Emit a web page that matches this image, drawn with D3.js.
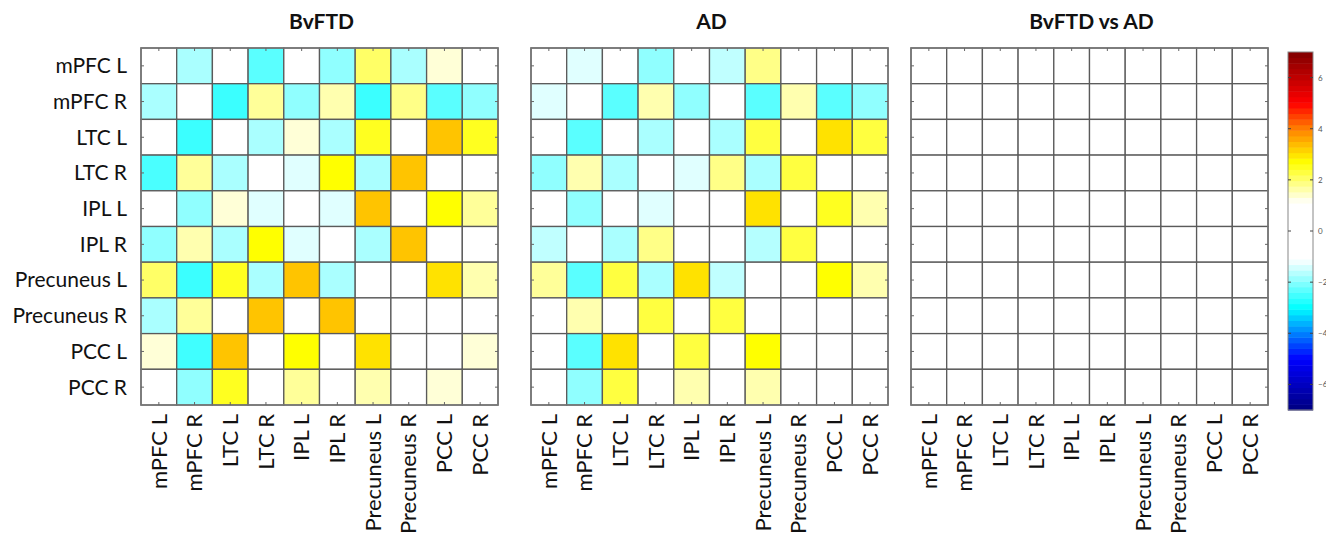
<!DOCTYPE html>
<html>
<head>
<meta charset="utf-8">
<script src="https://cdn.jsdelivr.net/npm/d3@7"></script>
<style>
  body { margin: 0; background: #fff; }
  svg text { font-family: Lato, "Open Sans", sans-serif; fill: #111; }
</style>
</head>
<body>
<svg id="chart-svg" width="1326" height="536"></svg>
<script>
// region names (rows and columns)
const regions = ['mPFC L', 'mPFC R', 'LTC L', 'LTC R', 'IPL L', 'IPL R',
  'Precuneus L', 'Precuneus R', 'PCC L', 'PCC R'];

const panelTitles = ['BvFTD', 'AD', 'BvFTD vs AD'];

const bvftdValues = [
  [0, -1.73, 0, -2.33, 0, -1.93, 2.06, -1.73, 1.35, 0],
  [-1.73, 0, -2.56, 1.74, -1.93, 1.6, -2.56, 1.85, -2.33, -1.93],
  [0, -2.56, 0, -1.73, 1.35, -1.73, 2.5, 0, 3.3, 2.5],
  [-2.45, 1.74, -1.73, 0, -1.33, 2.7, -1.73, 3.3, 0, 0],
  [0, -1.93, 1.35, -1.33, 0, -1.33, 3.3, 0, 2.7, 1.74],
  [-1.93, 1.6, -1.73, 2.7, -1.33, 0, -1.73, 3.3, 0, 0],
  [2.06, -2.56, 2.5, -1.73, 3.3, -1.73, 0, 0, 3.0, 1.6],
  [-1.73, 1.74, 0, 3.3, 0, 3.3, 0, 0, 0, 0],
  [1.35, -2.52, 3.3, 0, 2.7, 0, 3.0, 0, 0, 1.35],
  [0, -1.93, 2.5, 0, 1.74, 0, 1.6, 0, 1.35, 0]
];

const adValues = [
  [0, -1.33, 0, -1.93, 0, -1.57, 1.85, 0, 0, 0],
  [-1.33, 0, -2.33, 1.6, -1.93, 0, -2.33, 1.6, -2.33, -1.93],
  [0, -2.33, 0, -1.73, 0, -1.73, 2.3, 0, 3.0, 2.3],
  [-1.93, 1.6, -1.73, 0, -1.33, 1.85, -1.73, 2.3, 0, 0],
  [0, -1.93, 0, -1.33, 0, 0, 3.0, 0, 2.5, 1.6],
  [-1.57, 0, -1.73, 1.85, 0, 0, -1.65, 2.3, 0, 0],
  [1.74, -2.33, 2.3, -1.73, 3.0, -1.57, 0, 0, 2.7, 1.6],
  [0, 1.6, 0, 2.3, 0, 2.3, 0, 0, 0, 0],
  [0, -2.33, 3.0, 0, 2.3, 0, 2.7, 0, 0, 0],
  [0, -1.93, 2.3, 0, 1.6, 0, 1.6, 0, 0, 0]
];

const diffValues = [
  [0, 0, 0, 0, 0, 0, 0, 0, 0, 0],
  [0, 0, 0, 0, 0, 0, 0, 0, 0, 0],
  [0, 0, 0, 0, 0, 0, 0, 0, 0, 0],
  [0, 0, 0, 0, 0, 0, 0, 0, 0, 0],
  [0, 0, 0, 0, 0, 0, 0, 0, 0, 0],
  [0, 0, 0, 0, 0, 0, 0, 0, 0, 0],
  [0, 0, 0, 0, 0, 0, 0, 0, 0, 0],
  [0, 0, 0, 0, 0, 0, 0, 0, 0, 0],
  [0, 0, 0, 0, 0, 0, 0, 0, 0, 0],
  [0, 0, 0, 0, 0, 0, 0, 0, 0, 0]
];

const colorbarTicks = [-6, -4, -2, 0, 2, 4, 6];
const colorbarDomain = [-7, 7];

// jet-like map with a white band in the middle
const color = d3.scaleLinear()
  .domain([-7, -5, -4, -3, -1.1, 1.1, 2.7, 4, 5, 7])
  .range(['#000080', '#0000ff', '#0080ff', '#00ffff', '#ffffff',
          '#ffffff', '#ffff00', '#ff8000', '#ff0000', '#800000'])
  .clamp(true);

const svg = d3.select('#chart-svg');

const panelLefts = [141, 531, 911];
const panelTop = 48, size = 357;

function drawPanel(values, left, title, showRows) {
  const x = d3.scaleBand().domain(d3.range(regions.length)).range([left, left + size]);
  const y = d3.scaleBand().domain(d3.range(regions.length)).range([panelTop, panelTop + size]);
  const g = svg.append('g');

  const cells = [];
  values.forEach((row, i) => row.forEach((v, j) => cells.push({ i, j, v })));

  g.selectAll('rect.cell').data(cells).enter().append('rect')
    .attr('class', 'cell')
    .attr('x', d => x(d.j))
    .attr('y', d => y(d.i))
    .attr('width', x.bandwidth())
    .attr('height', y.bandwidth())
    .attr('fill', d => color(d.v))
    .attr('stroke', '#5a5a5a')
    .attr('stroke-width', 1.3);

  // outer frame
  g.append('rect')
    .attr('x', left).attr('y', panelTop).attr('width', size).attr('height', size)
    .attr('fill', 'none').attr('stroke', '#777').attr('stroke-width', 1.5);

  // matlab style inner ticks
  const t = 3;
  const ticks = g.append('g').attr('stroke', '#666').attr('stroke-width', 1);
  d3.range(regions.length).forEach(k => {
    const cx = x(k) + x.bandwidth() / 2, cy = y(k) + y.bandwidth() / 2;
    ticks.append('line').attr('x1', cx).attr('x2', cx).attr('y1', panelTop).attr('y2', panelTop + t);
    ticks.append('line').attr('x1', cx).attr('x2', cx).attr('y1', panelTop + size).attr('y2', panelTop + size - t);
    ticks.append('line').attr('y1', cy).attr('y2', cy).attr('x1', left).attr('x2', left + t);
    ticks.append('line').attr('y1', cy).attr('y2', cy).attr('x1', left + size).attr('x2', left + size - t);
  });

  g.append('text')
    .attr('x', left + size / 2 + 2).attr('y', 29)
    .attr('text-anchor', 'middle')
    .style('font-weight', 'bold').style('font-size', '21px')
    .text(title);

  if (showRows) {
    g.selectAll('text.row').data(regions).enter().append('text')
      .attr('class', 'row')
      .attr('x', left - 14)
      .attr('y', (d, i) => y(i) + y.bandwidth() / 2)
      .attr('dy', '0.35em')
      .attr('text-anchor', 'end')
      .style('font-size', '21px')
      .text(d => d);
  }

  g.selectAll('text.col').data(regions).enter().append('text')
    .attr('class', 'col')
    .attr('transform', (d, i) => `translate(${x(i) + x.bandwidth() / 2},${panelTop + size + 9}) rotate(-90)`)
    .attr('dy', '0.35em')
    .attr('text-anchor', 'end')
    .style('font-size', '22px')
    .text(d => d);
}

drawPanel(bvftdValues, panelLefts[0], panelTitles[0], true);
drawPanel(adValues, panelLefts[1], panelTitles[1], false);
drawPanel(diffValues, panelLefts[2], panelTitles[2], false);

// colorbar
const cbX = 1288, cbW = 25, cbTop = 52, cbBottom = 410;
const cbScale = d3.scaleLinear().domain(colorbarDomain).range([cbBottom, cbTop]);
const nBands = 64;
const bandVals = d3.range(nBands).map(k => colorbarDomain[0] + (k + 0.5) * (colorbarDomain[1] - colorbarDomain[0]) / nBands);
const bandH = (cbBottom - cbTop) / nBands;
const cb = svg.append('g');
cb.selectAll('rect').data(bandVals).enter().append('rect')
  .attr('x', cbX)
  .attr('y', d => cbScale(d) - bandH / 2)
  .attr('width', cbW)
  .attr('height', bandH + 0.5)
  .attr('fill', d => color(d));
cb.append('rect')
  .attr('x', cbX).attr('y', cbTop).attr('width', cbW).attr('height', cbBottom - cbTop)
  .attr('fill', 'none').attr('stroke', '#888').attr('stroke-width', 1);

const cbAxis = d3.axisRight(cbScale).tickValues(colorbarTicks).tickSize(0).tickPadding(5);
const axisG = cb.append('g').attr('transform', `translate(${cbX + cbW},0)`).call(cbAxis);
axisG.select('.domain').remove();
axisG.selectAll('text').style('font-size', '8px').style('fill', '#555');
colorbarTicks.forEach(v => {
  cb.append('line').attr('x1', cbX).attr('x2', cbX + 3).attr('y1', cbScale(v)).attr('y2', cbScale(v)).attr('stroke', '#444');
  cb.append('line').attr('x1', cbX + cbW - 3).attr('x2', cbX + cbW).attr('y1', cbScale(v)).attr('y2', cbScale(v)).attr('stroke', '#444');
});
</script>
</body>
</html>
